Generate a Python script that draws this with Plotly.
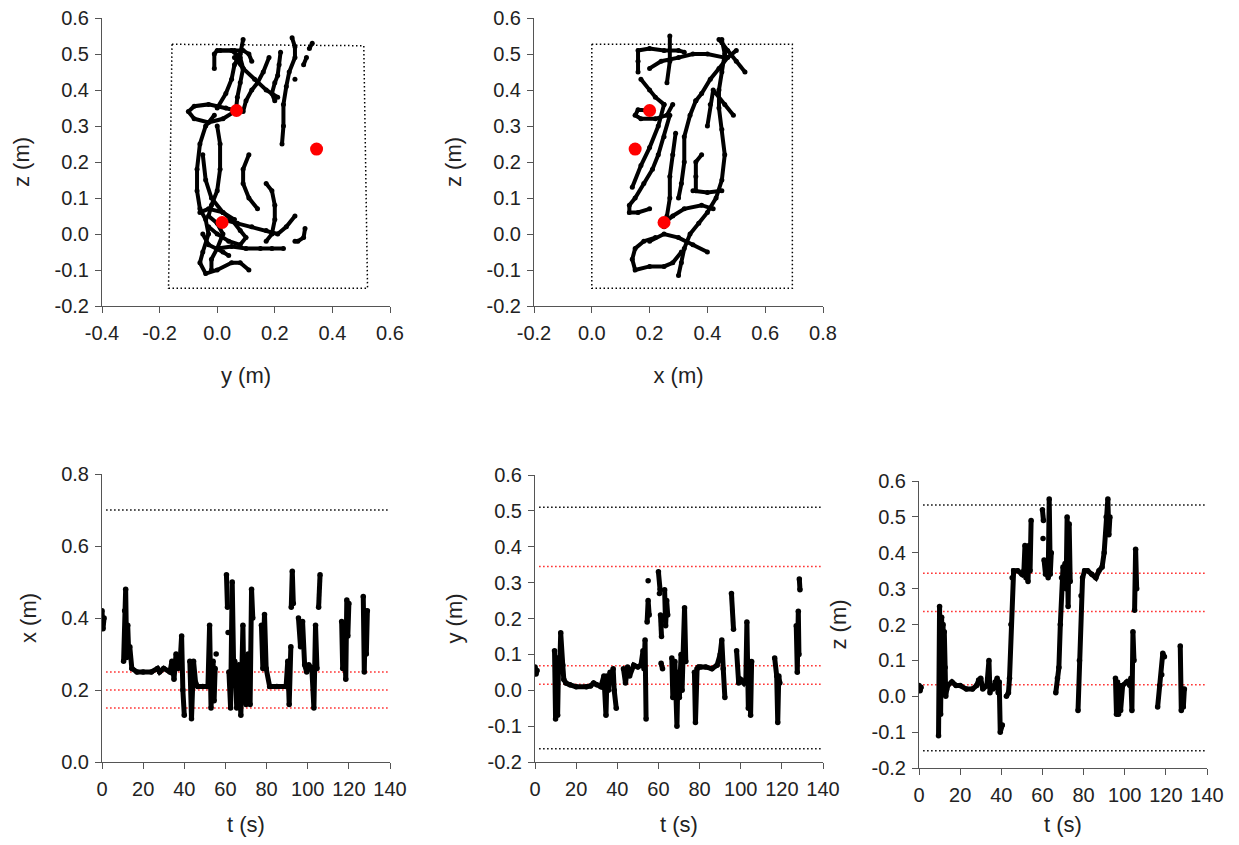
import plotly.graph_objects as go

# ---------------- data ----------------
# top-left: trajectory projected on the (y, z) plane
yz_y = [0.065, 0.03, -0.03, -0.08, -0.10, -0.08, -0.03, 0.02, 0.06, None,
        -0.01, -0.04, -0.06, -0.07, -0.07, -0.06, -0.04, -0.03, -0.05, -0.06, -0.04, 0.00, 0.05, 0.08, 0.11, None,
        0.00, 0.01, 0.01, 0.00, -0.02, -0.03, 0.00, 0.02, 0.00, -0.02, -0.02, None,
        -0.05, -0.04, -0.02, 0.02, 0.06, None,
        0.065, 0.07, 0.08, 0.09, 0.08, 0.05, 0.00, -0.01, -0.01, None,
        0.01, 0.06, 0.09, 0.11, 0.12, None,
        0.09, 0.08, 0.06, 0.05, 0.03, 0.00, None,
        0.06, 0.09, 0.13, 0.17, 0.21, None,
        0.26, 0.27, 0.27, 0.25, 0.24, 0.23, 0.23, 0.225, None,
        0.22, 0.215, 0.21, 0.20, 0.19, 0.20, None,
        0.18, 0.16, 0.14, 0.12, 0.10, 0.09, None,
        0.11, 0.09, 0.09, 0.11, 0.14, None,
        0.17, 0.19, 0.20, 0.20, 0.19, 0.17, None,
        0.02, 0.07, 0.12, 0.17, 0.21, 0.24, 0.27, None,
        0.305, 0.30, 0.28, 0.27, None,
        0.00, 0.05, 0.10, 0.15, 0.19, 0.23, None,
        -0.06, -0.03, 0.02, 0.05, 0.08, 0.10, 0.08, 0.04, 0.00, -0.03, None,
        -0.05, -0.03, 0.02, 0.04, None,
        0.27, None, 0.32, 0.33, None, 0.30, 0.31]
yz_z = [0.343, 0.35, 0.36, 0.355, 0.34, 0.32, 0.31, 0.32, 0.34, None,
        0.33, 0.30, 0.25, 0.18, 0.12, 0.07, 0.04, 0.00, -0.05, -0.08, -0.11, -0.10, -0.08, -0.08, -0.10, None,
        0.30, 0.25, 0.18, 0.12, 0.08, 0.05, 0.03, 0.00, -0.04, -0.07, -0.10, None,
        0.22, 0.15, 0.10, 0.06, 0.04, None,
        0.343, 0.38, 0.42, 0.46, 0.49, 0.51, 0.51, 0.50, 0.46, None,
        0.51, 0.51, 0.51, 0.50, 0.48, None,
        0.54, 0.50, 0.47, 0.43, 0.39, 0.35, None,
        0.49, 0.46, 0.43, 0.40, 0.38, None,
        0.545, 0.52, 0.49, 0.45, 0.41, 0.36, 0.30, 0.25, None,
        0.505, 0.47, 0.44, 0.42, 0.39, 0.37, None,
        0.49, 0.45, 0.42, 0.40, 0.37, 0.34, None,
        0.22, 0.18, 0.14, 0.10, 0.07, None,
        0.14, 0.12, 0.08, 0.04, 0.00, -0.02, None,
        0.04, 0.03, 0.02, 0.01, 0.00, 0.02, 0.05, None,
        0.015, -0.01, -0.02, -0.02, None,
        -0.04, -0.035, -0.04, -0.04, -0.04, -0.04, None,
        0.06, 0.07, 0.06, 0.04, 0.01, -0.01, -0.03, -0.02, 0.00, 0.02, None,
        0.00, -0.03, -0.05, -0.06, None,
        0.43, None, 0.515, 0.53, None, 0.47, 0.49]

# top-middle: trajectory projected on the (x, z) plane
xz_x = [0.20, 0.16, 0.15, 0.17, 0.22, 0.26, 0.28, None,
        0.16, 0.16, 0.16, 0.20, 0.25, 0.30, 0.32, None,
        0.17, 0.20, 0.22, 0.25, None,
        0.27, 0.25, 0.23, 0.21, 0.18, 0.15, 0.13, 0.13, 0.16, 0.20, None,
        0.25, 0.23, 0.20, 0.17, 0.14, None,
        0.29, 0.28, 0.27, 0.27, 0.26, 0.25, None,
        0.45, 0.46, 0.45, 0.44, 0.44, 0.45, 0.46, 0.45, 0.43, 0.40, 0.37, 0.34, 0.32, 0.31, 0.30, None,
        0.50, 0.47, 0.44, 0.41, 0.38, 0.36, None,
        0.44, 0.47, 0.50, 0.53, None,
        0.20, 0.24, 0.30, 0.35, 0.40, 0.46, None,
        0.36, 0.34, 0.32, 0.32, 0.31, 0.30, None,
        0.35, 0.40, 0.45, None,
        0.38, 0.36, 0.36, 0.36, None,
        0.22, 0.18, 0.15, 0.14, 0.15, 0.20, 0.25, 0.28, 0.31, None,
        0.20, 0.25, 0.30, 0.35, 0.40, None,
        0.25, 0.28, 0.32, 0.38, 0.42, None,
        0.40, 0.41, 0.42, 0.46, 0.49, None,
        0.27, 0.27, 0.26]
xz_z = [0.343, 0.345, 0.33, 0.32, 0.32, 0.33, 0.36, None,
        0.45, 0.48, 0.51, 0.515, 0.51, 0.51, 0.505, None,
        0.43, 0.40, 0.38, 0.36, None,
        0.33, 0.27, 0.22, 0.18, 0.14, 0.10, 0.08, 0.06, 0.06, 0.07, None,
        0.36, 0.30, 0.24, 0.19, 0.13, None,
        0.28, 0.22, 0.16, 0.10, 0.05, 0.02, None,
        0.54, 0.50, 0.45, 0.40, 0.35, 0.29, 0.22, 0.15, 0.10, 0.06, 0.03, 0.00, -0.04, -0.08, -0.115, None,
        0.51, 0.49, 0.46, 0.43, 0.39, 0.37, None,
        0.54, 0.51, 0.48, 0.45, None,
        0.46, 0.48, 0.49, 0.50, 0.50, 0.49, None,
        0.37, 0.33, 0.27, 0.20, 0.14, 0.10, None,
        0.12, 0.115, 0.12, None,
        0.22, 0.20, 0.16, 0.12, None,
        -0.01, -0.02, -0.04, -0.07, -0.10, -0.09, -0.09, -0.08, -0.05, None,
        -0.02, 0.00, -0.01, -0.03, -0.05, None,
        0.03, 0.05, 0.07, 0.08, 0.07, None,
        0.30, 0.36, 0.40, 0.36, 0.33, None,
        0.55, 0.48, 0.42]

# bounding boxes (dotted)
box_yz_y = [-0.157, 0.509, 0.522, -0.169, -0.157]
box_yz_z = [0.527, 0.523, -0.151, -0.151, 0.527]
box_xz_x = [0.0, 0.694, 0.694, 0.0, 0.0]
box_xz_z = [0.527, 0.527, -0.151, -0.151, 0.527]

# target positions (red)
targ_x = [0.20, 0.25, 0.15]
targ_y = [0.067, 0.017, 0.345]
targ_z = [0.343, 0.032, 0.236]

# time series
x_t = [0, 0.5, 1, None,
       10.5, 11, 11.5, 12, 12.5, 13, 13.5, 14.5, 17, 20, 24, 27, 28, 30, 33, 34, 35, 36, 37, 38, 38.7, 39.3, 40, None,
       42.7, 43.5, 44.5, 45.5, 46.5, 49, 51.5, 52.3, 53, 54, 54.5, 55, None,
       55.5, None,
       60.5, 61, None,
       61.3, None,
       61.7, 62.5, 63.3, 64, 64.5, 65.5, 66.5, 67.5, 68.5, 69, 70, 71, 72, 72.7, 73.3, None,
       77.5, 78.2, 79, 79.8, 81.5, 85, 89.5, 90.3, 91, 91.8, None,
       92, 92.5, 93, None,
       95.5, 96.5, 97.5, 98.5, 99.5, 100.5, 102, 103, 103.8, 104.5, None,
       105.3, 106, None,
       116.5, 117, 118, 118.5, 119, 119.5, 120, None,
       127, 127.5, 128, 128.5, 129]
x_v = [0.42, 0.37, 0.40, None,
       0.28, 0.42, 0.48, 0.29, 0.38, 0.30, 0.32, 0.26, 0.25, 0.25, 0.25, 0.26, 0.25, 0.26, 0.25, 0.28, 0.23, 0.30, 0.26, 0.28, 0.35, 0.20, 0.13, None,
       0.28, 0.12, 0.28, 0.22, 0.21, 0.21, 0.21, 0.38, 0.15, 0.28, 0.17, 0.26, None,
       0.30, None,
       0.52, 0.43, None,
       0.36, None,
       0.25, 0.15, 0.50, 0.26, 0.28, 0.15, 0.27, 0.13, 0.38, 0.20, 0.16, 0.30, 0.16, 0.48, 0.40, None,
       0.38, 0.26, 0.41, 0.26, 0.21, 0.21, 0.21, 0.28, 0.16, 0.32, None,
       0.43, 0.53, 0.44, None,
       0.40, 0.32, 0.39, 0.27, 0.25, 0.27, 0.26, 0.15, 0.38, 0.26, None,
       0.43, 0.52, None,
       0.39, 0.26, 0.32, 0.23, 0.45, 0.35, 0.44, None,
       0.46, 0.25, 0.42, 0.30, 0.42]

y_t = [0, 0.5, 1, None,
       9.5, 10, 10.5, 11, 11.5, 12, 12.5, 13, 13.5, 14, 15, 17, 20, 25, 27, 28.5, 30, 32, 33.5, 34.5, 35, 35.7, 36.5, 37, 37.5, 38, 38.5, 39.5, None,
       43, 44, 45, 46, 48, 50, 51.5, 52.5, 53, 53.5, 54, None,
       54.5, 55, 55.5, None,
       55, None,
       60, 60.8, None,
       60.5, None,
       61, 61.5, None,
       61.3, 62, None,
       63, 63.5, 64, 64.5, None,
       66.5, 67, 68, 69, 69.5, 70.2, 71, 71.5, 72, 72.7, 73.3, None,
       77.5, 78, 78.8, 79.5, 80.5, 83, 86, 88.5, 90, 90.8, 91.5, 92.3, None,
       95.5, 96.5, None,
       98, 99, 100, 101.5, 102.5, 103, 103.7, 104.3, 104.8, 105.3, None,
       116.5, 117.5, 118, 118.5, 119, None,
       127, 127.5, 128, 128.3, None,
       128.5, 128.8]
y_v = [0.065, 0.045, 0.055, None,
       0.11, -0.08, 0.09, -0.07, 0.09, 0.06, 0.16, 0.08, 0.07, 0.03, 0.02, 0.015, 0.01, 0.01, 0.012, 0.02, 0.015, 0.01, 0.04, -0.07, 0.04, 0.0, 0.05, 0.03, 0.045, 0.06, 0.0, -0.05, None,
       0.06, 0.02, 0.065, 0.04, 0.07, 0.065, 0.07, 0.11, 0.06, 0.14, -0.08, None,
       0.19, 0.25, 0.21, None,
       0.305, None,
       0.33, 0.28, None,
       0.27, None,
       0.21, 0.15, None,
       0.075, 0.06, None,
       0.28, 0.18, 0.25, 0.21, None,
       0.09, -0.02, 0.08, -0.10, 0.05, -0.02, 0.10, 0.0, 0.10, 0.23, 0.08, None,
       0.05, -0.09, 0.06, 0.065, 0.065, 0.065, 0.06, 0.07, 0.10, 0.14, 0.06, -0.02, None,
       0.27, 0.17, None,
       0.11, 0.02, 0.03, 0.02, 0.03, 0.19, -0.05, 0.08, -0.07, 0.08, None,
       0.09, 0.04, -0.09, 0.04, 0.02, None,
       0.18, 0.05, 0.22, 0.10, None,
       0.31, 0.28]

z_t = [0, 0.5, 1, None,
       9.5, 10, 10.5, 11, 11.3, 11.7, 12, 12.3, 12.7, 13, 13.5, 14, 16, 18, 20, 23, 26, 28, 29, 30, 31, 33, 34, 34.5, 35, 36, 37, 38, 38.5, 39, 39.5, 40.5, None,
       42.5, 43.5, 44, 44.7, 45.3, 46, 48, 50, 51, 51.5, 52, 52.5, 53, 53.5, 54, 54.5, None,
       60, 60.5, None,
       60.3, None,
       60.8, 61.5, 62.2, 62.8, 63.3, 63.8, 64.3, None,
       66.5, 67.3, 68, 68.7, 69.3, 70, 70.5, 71, 71.5, 72, 72.5, 73, 73.5, None,
       77.3, 78, 78.8, 79.5, 80.5, 82, 84, 86, 87.5, 89, 90, 91, 91.8, 92.3, 92.8, None,
       95.5, 96, 96.5, 97, 97.5, 98, 99, 101, 102.5, 103, 103.5, 104, 104.5, None,
       104.8, 105.3, 105.8, None,
       116, 117, 118, 118.5, 119.3, None,
       127, 127.5, 128, 128.5, 129]
z_v = [0.03, 0.015, 0.025, None,
       -0.11, 0.25, -0.05, 0.22, 0.08, 0.20, 0.07, 0.18, 0.08, 0.0, 0.02, 0.03, 0.04, 0.03, 0.03, 0.02, 0.02, 0.03, 0.045, 0.05, 0.02, 0.03, 0.10, 0.01, 0.03, 0.02, 0.04, 0.05, 0.01, 0.04, -0.10, -0.08, None,
       0.0, 0.01, 0.05, 0.20, 0.33, 0.35, 0.35, 0.34, 0.35, 0.42, 0.33, 0.40, 0.32, 0.42, 0.35, 0.49, None,
       0.52, 0.49, None,
       0.44, None,
       0.38, 0.34, 0.37, 0.33, 0.55, 0.34, 0.40, None,
       0.01, 0.05, 0.08, 0.20, 0.33, 0.36, 0.34, 0.37, 0.30, 0.50, 0.25, 0.48, 0.32, None,
       -0.04, 0.10, 0.28, 0.33, 0.35, 0.35, 0.34, 0.33, 0.35, 0.36, 0.40, 0.50, 0.55, 0.45, 0.50, None,
       0.05, -0.05, 0.04, -0.05, 0.03, -0.04, 0.03, 0.04, 0.03, 0.05, -0.04, 0.18, 0.10, None,
       0.24, 0.41, 0.30, None,
       -0.03, 0.03, 0.06, 0.12, 0.11, None,
       0.14, -0.04, 0.02, -0.03, 0.02]

# boundary (black) and target (red) levels in the time plots
t_line = [2, 139.5]
x_bounds = [0.70]
x_targets = [0.25, 0.20, 0.15]
y_bounds = [0.51, -0.163]
y_targets = [0.345, 0.068, 0.017]
z_bounds = [0.533, -0.152]
z_targets = [0.343, 0.236, 0.032]

# tick labels
yz_xticks = [-0.4, -0.2, 0.0, 0.2, 0.4, 0.6]
xz_xticks = [-0.2, 0.0, 0.2, 0.4, 0.6, 0.8]
z_ticks = [-0.2, -0.1, 0.0, 0.1, 0.2, 0.3, 0.4, 0.5, 0.6]
x_ticks = [0.0, 0.2, 0.4, 0.6, 0.8]
t_ticks = [0, 20, 40, 60, 80, 100, 120, 140]


def lab(v):
    return ("%.1f" % v).replace("-0.0", "0.0")


# ---------------- figure ----------------
fig = go.Figure()
traj_line = dict(color="black", width=4)
traj_mark = dict(color="black", size=5)
ts_line = dict(color="black", width=5)
ts_mark = dict(color="black", size=5.5)
DOT = "1.5px,2.5px"


def sc(x, y, xa, ya, **kw):
    fig.add_trace(go.Scatter(x=x, y=y, xaxis=xa, yaxis=ya, showlegend=False,
                             hoverinfo="skip", connectgaps=False, **kw))


# top-left
sc(box_yz_y, box_yz_z, "x", "y", mode="lines", line=dict(color="black", width=1.5, dash=DOT))
sc(yz_y, yz_z, "x", "y", mode="lines+markers", line=traj_line, marker=traj_mark)
sc(targ_y, targ_z, "x", "y", mode="markers", marker=dict(color="#ff0000", size=13))
# top-middle
sc(box_xz_x, box_xz_z, "x2", "y2", mode="lines", line=dict(color="black", width=1.5, dash=DOT))
sc(xz_x, xz_z, "x2", "y2", mode="lines+markers", line=traj_line, marker=traj_mark)
sc(targ_x, targ_z, "x2", "y2", mode="markers", marker=dict(color="#ff0000", size=13))

# time plots
for xa, ya, tt, vv, bnds, tgts in [("x3", "y3", x_t, x_v, x_bounds, x_targets),
                                    ("x4", "y4", y_t, y_v, y_bounds, y_targets),
                                    ("x5", "y5", z_t, z_v, z_bounds, z_targets)]:
    for b in bnds:
        sc(t_line, [b, b], xa, ya, mode="lines", line=dict(color="black", width=1.5, dash=DOT))
    for r in tgts:
        sc(t_line, [r, r], xa, ya, mode="lines", line=dict(color="#ff2020", width=1.5, dash=DOT))
    sc(tt, vv, xa, ya, mode="lines+markers", line=ts_line, marker=ts_mark)

# the page body adds an 8 px margin around the figure
OFF = 8
W, H = 1239 - 2 * OFF, 845 - 2 * OFF


def dom_x(a, b):
    return [(a - OFF) / W, (b - OFF) / W]


def dom_y(top, bot):
    return [1 - (bot - OFF) / H, 1 - (top - OFF) / H]


FONT = "Liberation Sans, Arial, sans-serif"


def axis(domain, rng, ticks, title, anchor, standoff, lstand, fmt=True):
    return dict(domain=domain, range=rng, anchor=anchor, automargin=False,
                tickmode="array", tickvals=ticks,
                ticktext=[lab(v) if fmt else str(v) for v in ticks],
                showline=True, linecolor="#555", linewidth=1,
                ticks="outside", ticklen=6, tickcolor="#555", tickwidth=1,
                ticklabelstandoff=lstand, ticklabeloverflow="allow",
                showgrid=False, zeroline=False,
                tickfont=dict(size=20, color="#222", family=FONT),
                title=dict(text=title, standoff=standoff,
                           font=dict(size=22, color="#222", family=FONT)))


fig.update_layout(
    width=W, height=H, margin=dict(l=0, r=0, t=0, b=0, autoexpand=False),
    paper_bgcolor="white", plot_bgcolor="white",
    font=dict(family=FONT),
    xaxis=axis(dom_x(102, 390), [-0.4, 0.6], yz_xticks, "y (m)", "y", 24, 3),
    yaxis=axis(dom_y(18, 306), [-0.2, 0.6], z_ticks, "z (m)", "x", 18, 2),
    xaxis2=axis(dom_x(534, 823), [-0.2, 0.8], xz_xticks, "x (m)", "y2", 24, 3),
    yaxis2=axis(dom_y(18, 306), [-0.2, 0.6], z_ticks, "z (m)", "x2", 18, 2),
    xaxis3=axis(dom_x(102, 390), [0, 140], t_ticks, "t (s)", "y3", 24, 3, fmt=False),
    yaxis3=axis(dom_y(474, 762), [0.0, 0.8], x_ticks, "x (m)", "x3", 18, 2),
    xaxis4=axis(dom_x(535, 823), [0, 140], t_ticks, "t (s)", "y4", 24, 3, fmt=False),
    yaxis4=axis(dom_y(475, 762), [-0.2, 0.6], z_ticks, "y (m)", "x4", 18, 2),
    xaxis5=axis(dom_x(919, 1207), [0, 140], t_ticks, "t (s)", "y5", 24, 3, fmt=False),
    yaxis5=axis(dom_y(481, 768), [-0.2, 0.6], z_ticks, "z (m)", "x5", 18, 2),
)

fig.write_html("out.html")
